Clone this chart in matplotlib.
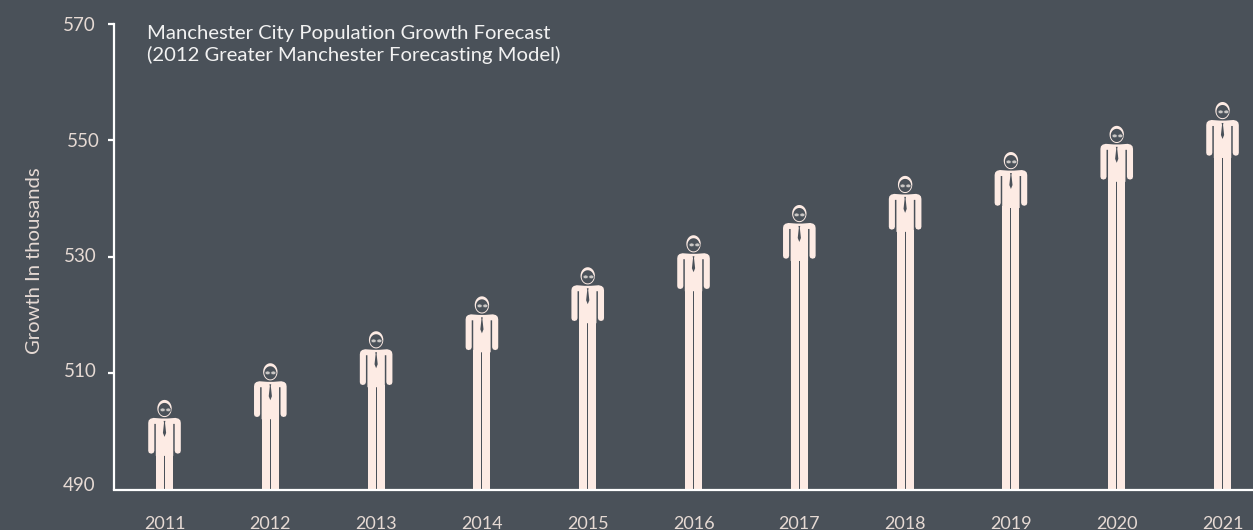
import matplotlib
matplotlib.use("Agg")
import matplotlib.pyplot as plt
from matplotlib.path import Path
from matplotlib.collections import PathCollection
from matplotlib.transforms import IdentityTransform
import numpy as np

years = ['2011', '2012', '2013', '2014', '2015', '2016', '2017', '2018', '2019', '2020', '2021']
# top of each figure's head, in thousands
population = [505.4, 511.7, 517.2, 523.2, 528.2, 533.7, 538.9, 543.9, 548.0, 552.5, 556.6]
y_ticks = [490, 510, 530, 550, 570]
y_label_nudge = [(-1, 4), (0, 1.5), (0, 0.5), (3, -1), (-1, -1.5)]

BG = '#4a5159'
CREAM = '#fdebe4'
TICKTXT = '#e6dad4'
plt.rcParams['font.family'] = ['Lato', 'DejaVu Sans']


def person_parts():
    # outlines in pixels, measured from the top of the head, y going up
    verts = [(-11, -18), (-3, -18.6), (3, -18.6), (11, -18), (14, -18.8), (15.8, -20.5), (16.3, -23), (16.3, -51),
             (15.6, -53), (13.3, -53.8), (11, -53), (10.2, -51), (10.2, -24), (8.7, -24), (8.7, -56), (-8.7, -56),
             (-8.7, -24), (-10.2, -24), (-10.2, -51), (-11, -53), (-13.3, -53.8), (-15.6, -53), (-16.3, -51),
             (-16.3, -23), (-15.8, -20.5), (-14, -18.8), (-11, -18)]
    body = Path(verts, [Path.MOVETO] + [Path.LINETO] * (len(verts) - 2) + [Path.CLOSEPOLY])
    tie = Path([(-0.9, -21), (0.9, -21), (0.5, -23), (1.6, -33), (0, -37), (-1.6, -33), (-0.5, -23), (-0.9, -21)],
               [Path.MOVETO] + [Path.LINETO] * 6 + [Path.CLOSEPOLY])
    t = np.linspace(0, 2 * np.pi, 40)
    head = Path(np.column_stack([7.2 * np.cos(t), -8.6 + 8.6 * np.sin(t)]))
    face = Path(np.column_stack([6.0 * np.cos(t), -9.6 + 6.6 * np.sin(t)]))
    lens_l = Path(np.column_stack([-2.9 + 2.6 * np.cos(t), -9.4 + 1.9 * np.sin(t)]))
    lens_r = Path(np.column_stack([2.9 + 2.6 * np.cos(t), -9.4 + 1.9 * np.sin(t)]))
    return body, tie, head, face, lens_l, lens_r


fig = plt.figure(figsize=(12.53, 5.30), dpi=100, facecolor=BG)
ax = fig.add_axes([114 / 1253, (530 - 489.5) / 530, (1253 - 114) / 1253, (489.5 - 24) / 530], facecolor=BG)

x = np.arange(len(years))
ax.set_xlim(-0.4775, 10.288)
ax.set_ylim(490, 570)

px_per_k = (489.5 - 24) / 80.0
px_per_cat = 105.75
pop = np.array(population)
hip = pop - 54 / px_per_k
leg_w = 8 / px_per_cat
ax.bar(x - 4.5 / px_per_cat, hip - 490, bottom=490, width=leg_w, color=CREAM, zorder=2)
ax.bar(x + 4.5 / px_per_cat, hip - 490, bottom=490, width=leg_w, color=CREAM, zorder=2)

offsets = np.column_stack([x, pop])
body, tie, head, face, lens_l, lens_r = person_parts()
for path, fc, ec, lw, z in [(body, CREAM, 'none', 0, 3), (tie, BG, 'none', 0, 4), (head, CREAM, 'none', 0, 3),
                            (face, BG, 'none', 0, 4), (lens_l, '#c9c6c4', BG, 0.5, 5), (lens_r, '#c9c6c4', BG, 0.5, 5)]:
    pc = PathCollection([path], offsets=offsets, offset_transform=ax.transData, transform=IdentityTransform(),
                        facecolors=fc, edgecolors=ec, linewidths=lw, zorder=z)
    ax.add_collection(pc)

for s in ['top', 'right']:
    ax.spines[s].set_visible(False)
for s in ['left', 'bottom']:
    ax.spines[s].set_color('white')
    ax.spines[s].set_linewidth(1.6)

ax.set_yticks(y_ticks)
ax.set_yticklabels([])
ax.tick_params(axis='y', color='white', width=1.6, length=4.5)
ax.yaxis.get_major_ticks()[0].tick1line.set_visible(False)
ax.set_xticks(x)
ax.set_xticklabels(years, color=TICKTXT, fontsize=13)
ax.tick_params(axis='x', length=0, pad=19)

for val, (dx, dy) in zip(y_ticks, y_label_nudge):
    ax.annotate(str(val), xy=(0, val), xycoords=('axes fraction', 'data'), xytext=(-17.5 + dx, dy),
                textcoords='offset pixels', ha='right', va='center', color=TICKTXT, fontsize=13.5)

fig.text(35 / 1253, 1 - 261 / 530, 'Growth In thousands', rotation=90, ha='center', va='center', color=TICKTXT, fontsize=14.6)
fig.text(147 / 1253, 1 - 33 / 530, 'Manchester City Population Growth Forecast', ha='left', va='center', color='#f2f2f2', fontsize=14.6)
fig.text(147 / 1253, 1 - 55 / 530, '(2012 Greater Manchester Forecasting Model)', ha='left', va='center', color='#f2f2f2', fontsize=14.6)

fig.savefig('out.png', dpi=100, facecolor=BG)
